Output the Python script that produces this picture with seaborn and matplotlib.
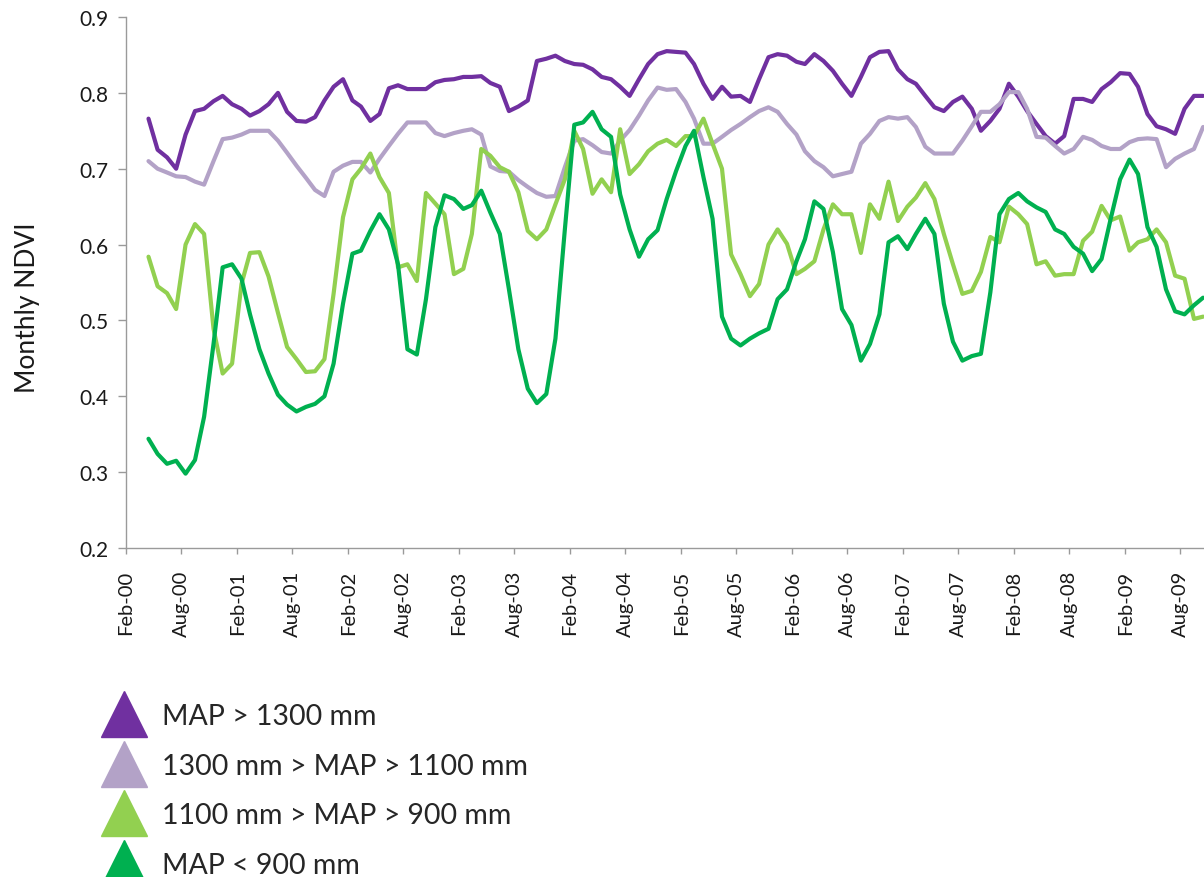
"""
Monthly NDVI by rainfall zone (MAP classes), Apr-2000 to Oct-2009.
"""

import numpy as np
import pandas as pd
import matplotlib
matplotlib.use("Agg")
import matplotlib.pyplot as plt
import matplotlib.dates as mdates
from matplotlib.lines import Line2D
import seaborn as sns

# monthly samples, mid-month, starting Apr-2000
dates = pd.date_range("2000-04-01", periods=115, freq="MS") + pd.Timedelta(days=14)

zones = [
    "MAP > 1300 mm",
    "1300 mm > MAP > 1100 mm",
    "1100 mm > MAP > 900 mm",
    "MAP < 900 mm",
]
colors = ["#7030A0", "#B3A2C7", "#92D050", "#00B050"]

ndvi_wet = [
    0.766, 0.725, 0.715, 0.700, 0.745, 0.776, 0.779, 0.789, 0.796, 0.785,
    0.779, 0.770, 0.776, 0.785, 0.800, 0.775, 0.763, 0.762, 0.768, 0.790,
    0.808, 0.818, 0.790, 0.782, 0.763, 0.772, 0.806, 0.810, 0.805, 0.805,
    0.805, 0.814, 0.817, 0.818, 0.821, 0.821, 0.822, 0.813, 0.808, 0.776,
    0.782, 0.790, 0.842, 0.845, 0.849, 0.842, 0.838, 0.837, 0.831, 0.821,
    0.818, 0.808, 0.796, 0.818, 0.838, 0.851, 0.855, 0.854, 0.853, 0.838,
    0.812, 0.792, 0.808, 0.795, 0.796, 0.788, 0.818, 0.847, 0.851, 0.849,
    0.841, 0.838, 0.851, 0.842, 0.829, 0.812, 0.796, 0.821, 0.847, 0.854,
    0.855, 0.831, 0.818, 0.812, 0.796, 0.781, 0.776, 0.788, 0.795, 0.779,
    0.750, 0.763, 0.779, 0.812, 0.795, 0.776, 0.759, 0.743, 0.733, 0.743,
    0.792, 0.792, 0.788, 0.805, 0.814, 0.826, 0.825, 0.808, 0.772, 0.756,
    0.752, 0.746, 0.779, 0.796, 0.796,
]

ndvi_moist = [
    0.710, 0.700, 0.695, 0.690, 0.689, 0.683, 0.679, 0.710, 0.739, 0.741,
    0.745, 0.750, 0.750, 0.750, 0.737, 0.721, 0.704, 0.688, 0.672, 0.664,
    0.696, 0.704, 0.709, 0.709, 0.695, 0.713, 0.730, 0.746, 0.761, 0.761,
    0.761, 0.747, 0.743, 0.747, 0.750, 0.752, 0.745, 0.703, 0.697, 0.696,
    0.685, 0.676, 0.668, 0.663, 0.664, 0.702, 0.737, 0.739, 0.731, 0.722,
    0.720, 0.737, 0.751, 0.770, 0.790, 0.807, 0.804, 0.805, 0.788, 0.766,
    0.733, 0.733, 0.742, 0.751, 0.759, 0.768, 0.776, 0.781, 0.775, 0.759,
    0.745, 0.723, 0.710, 0.702, 0.690, 0.693, 0.696, 0.733, 0.746, 0.763,
    0.768, 0.766, 0.768, 0.755, 0.729, 0.720, 0.720, 0.720, 0.737, 0.756,
    0.775, 0.775, 0.785, 0.801, 0.801, 0.779, 0.742, 0.741, 0.730, 0.720,
    0.726, 0.742, 0.738, 0.730, 0.726, 0.726, 0.735, 0.739, 0.740, 0.739,
    0.702, 0.713, 0.720, 0.726, 0.755,
]

ndvi_semi = [
    0.584, 0.545, 0.536, 0.515, 0.600, 0.627, 0.614, 0.489, 0.430, 0.443,
    0.548, 0.589, 0.590, 0.558, 0.510, 0.465, 0.449, 0.432, 0.433, 0.449,
    0.535, 0.636, 0.686, 0.700, 0.720, 0.689, 0.668, 0.570, 0.574, 0.552,
    0.668, 0.654, 0.640, 0.561, 0.568, 0.614, 0.726, 0.717, 0.702, 0.696,
    0.669, 0.618, 0.607, 0.620, 0.653, 0.686, 0.750, 0.726, 0.667, 0.686,
    0.669, 0.752, 0.693, 0.706, 0.723, 0.733, 0.738, 0.730, 0.743, 0.743,
    0.766, 0.733, 0.700, 0.587, 0.561, 0.532, 0.548, 0.600, 0.620, 0.601,
    0.561, 0.568, 0.578, 0.620, 0.653, 0.640, 0.640, 0.589, 0.653, 0.634,
    0.683, 0.631, 0.650, 0.662, 0.681, 0.660, 0.614, 0.574, 0.535, 0.539,
    0.564, 0.610, 0.603, 0.650, 0.640, 0.627, 0.574, 0.578, 0.559, 0.561,
    0.561, 0.605, 0.617, 0.651, 0.632, 0.637, 0.592, 0.603, 0.607, 0.620,
    0.603, 0.559, 0.555, 0.502, 0.505,
]

ndvi_dry = [
    0.344, 0.324, 0.311, 0.315, 0.298, 0.316, 0.373, 0.469, 0.570, 0.574,
    0.555, 0.508, 0.462, 0.430, 0.402, 0.389, 0.380, 0.386, 0.390, 0.400,
    0.443, 0.522, 0.588, 0.592, 0.618, 0.640, 0.620, 0.574, 0.462, 0.455,
    0.528, 0.623, 0.665, 0.660, 0.647, 0.652, 0.671, 0.642, 0.614, 0.541,
    0.462, 0.410, 0.391, 0.403, 0.476, 0.620, 0.758, 0.761, 0.775, 0.752,
    0.742, 0.666, 0.620, 0.584, 0.607, 0.619, 0.660, 0.697, 0.730, 0.750,
    0.689, 0.634, 0.505, 0.476, 0.467, 0.476, 0.483, 0.489, 0.528, 0.541,
    0.578, 0.607, 0.657, 0.647, 0.590, 0.515, 0.494, 0.447, 0.469, 0.508,
    0.603, 0.611, 0.594, 0.614, 0.634, 0.614, 0.522, 0.472, 0.447, 0.453,
    0.456, 0.537, 0.640, 0.660, 0.668, 0.657, 0.649, 0.643, 0.620, 0.614,
    0.597, 0.588, 0.565, 0.581, 0.634, 0.686, 0.712, 0.693, 0.623, 0.597,
    0.541, 0.512, 0.508, 0.520, 0.530,
]

y_ticks = [0.2, 0.3, 0.4, 0.5, 0.6, 0.7, 0.8, 0.9]

df = pd.DataFrame({
    "date": np.tile(dates, 4),
    "ndvi": ndvi_wet + ndvi_moist + ndvi_semi + ndvi_dry,
    "zone": np.repeat(zones, len(dates)),
})

sns.set_theme(style="white")
plt.rcParams["font.family"] = ["Lato", "DejaVu Sans"]

fig = plt.figure(figsize=(12.04, 8.78), dpi=100)
ax = fig.add_axes([126 / 1204, 1 - 549 / 878, 1 - 126 / 1204, 531 / 878])

sns.lineplot(
    data=df, x="date", y="ndvi", hue="zone", hue_order=zones,
    palette=colors, linewidth=3.0, legend=False, ax=ax,
)

ax.set_xlim(pd.Timestamp("2000-02-01"), pd.Timestamp("2009-10-18"))
ax.set_ylim(0.2, 0.9)
ax.set_yticks(y_ticks)
ax.yaxis.set_major_formatter(plt.FormatStrFormatter("%.1f"))
ax.xaxis.set_major_locator(mdates.MonthLocator(bymonth=[2, 8]))
ax.xaxis.set_major_formatter(mdates.DateFormatter("%b-%y"))

for side in ["top", "right"]:
    ax.spines[side].set_visible(False)
for side in ["left", "bottom"]:
    ax.spines[side].set_color("#9a9a9a")
    ax.spines[side].set_linewidth(1.0)

ax.tick_params(axis="y", direction="out", length=5.5, width=1.0,
               color="#9a9a9a", pad=7, labelsize=15, labelcolor="#1a1a1a", left=True)
ax.tick_params(axis="x", direction="out", length=4.5, width=1.0,
               color="#9a9a9a", pad=11, labelsize=14.5, labelcolor="#1a1a1a",
               labelrotation=90, bottom=True)
ax.set_xlabel("")
ax.set_ylabel("")
fig.text(28 / 1204, 1 - 308 / 878, "Monthly NDVI", rotation=90,
         ha="center", va="center", fontsize=19, color="#1a1a1a")

handles = [
    Line2D([], [], marker="^", linestyle="none", markersize=33,
           markerfacecolor=c, markeredgecolor=c)
    for c in colors
]
fig.legend(handles, zones, loc="upper left",
           bbox_to_anchor=(101 / 1204, 1 - 704 / 878),
           frameon=False, fontsize=20.5, handlelength=1.6,
           handletextpad=0.54, labelspacing=0.83, borderpad=0,
           borderaxespad=0)

fig.savefig("out.png", dpi=100)
plt.close(fig)
